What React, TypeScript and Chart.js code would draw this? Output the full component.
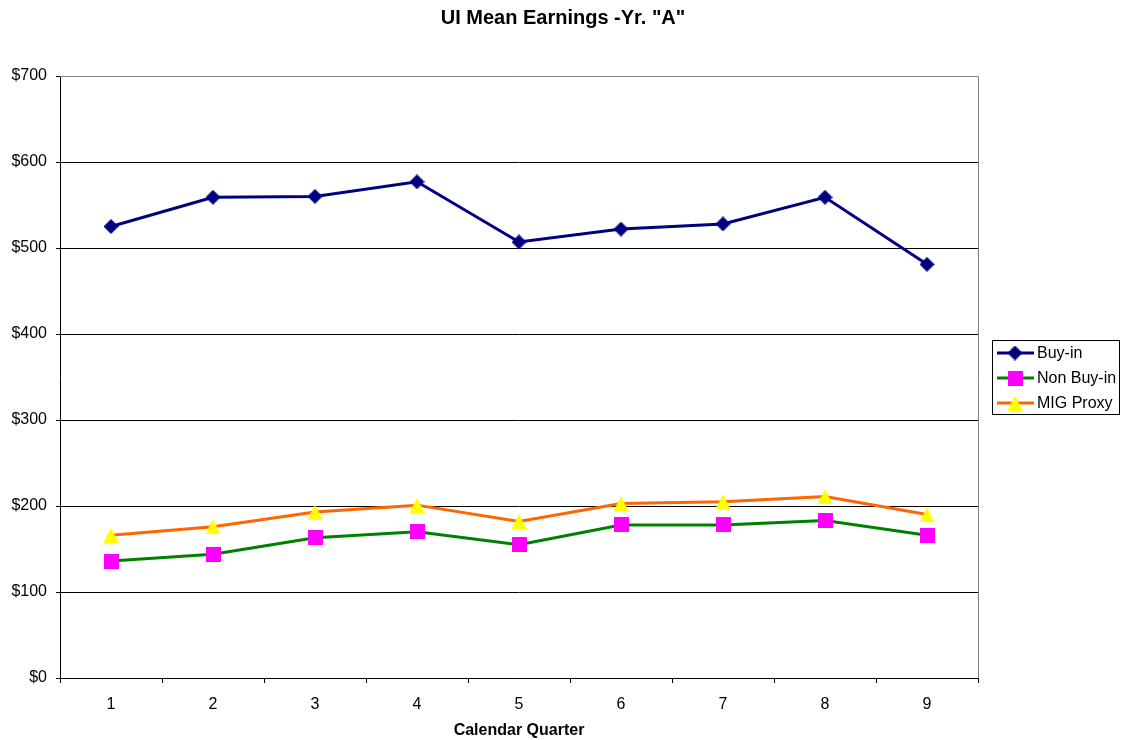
import React, { useEffect, useRef } from "react";
import { Chart, registerables } from "chart.js";

Chart.register(...registerables);

const categories = ["1", "2", "3", "4", "5", "6", "7", "8", "9"];
const buyIn = [525, 559, 560, 577, 507, 522, 528, 559, 481];
const nonBuyIn = [136, 144, 163, 170, 155, 178, 178, 183, 166];
const migProxy = [166, 176, 193, 201, 182, 203, 205, 211, 190];
const yTicks = [0, 100, 200, 300, 400, 500, 600, 700];

const FONT = "'Liberation Sans', Arial, Helvetica, sans-serif";

function makeMarker(kind: string, color: string): HTMLCanvasElement {
  const c = document.createElement("canvas");
  const s = 15;
  c.width = s;
  c.height = s;
  const ctx = c.getContext("2d")!;
  ctx.fillStyle = color;
  ctx.beginPath();
  if (kind === "diamond") {
    ctx.moveTo(s / 2, 0);
    ctx.lineTo(s, s / 2);
    ctx.lineTo(s / 2, s);
    ctx.lineTo(0, s / 2);
  } else if (kind === "square") {
    ctx.rect(0, 0, s, s);
  } else {
    ctx.moveTo(s / 2, 0);
    ctx.lineTo(s, s);
    ctx.lineTo(0, s);
  }
  ctx.closePath();
  ctx.fill();
  return c;
}

const titlePlugin = {
  id: "customTitle",
  afterDraw(chart: any) {
    const ctx = chart.ctx;
    ctx.save();
    ctx.font = `bold 20px ${FONT}`;
    ctx.fillStyle = "#000";
    ctx.textAlign = "center";
    ctx.textBaseline = "middle";
    ctx.fillText('UI Mean Earnings -Yr. "A"', 563, 18);
    ctx.restore();
  },
};

const borderPlugin = {
  id: "plotBorder",
  beforeDatasetsDraw(chart: any) {
    const { ctx, chartArea } = chart;
    ctx.save();
    ctx.strokeStyle = "#808080";
    ctx.lineWidth = 1;
    ctx.beginPath();
    ctx.moveTo(chartArea.left, chartArea.top + 0.5);
    ctx.lineTo(chartArea.right + 0.5, chartArea.top + 0.5);
    ctx.lineTo(chartArea.right + 0.5, chartArea.bottom);
    ctx.stroke();
    ctx.restore();
  },
};

const legendPlugin = {
  id: "customLegend",
  afterDraw(chart: any) {
    const ctx = chart.ctx;
    ctx.save();
    ctx.strokeStyle = "#000";
    ctx.lineWidth = 1;
    ctx.strokeRect(992.5, 340.5, 127, 74);
    const rows = [353, 378, 403];
    chart.data.datasets.forEach((ds: any, i: number) => {
      const y = rows[i];
      ctx.strokeStyle = ds.borderColor;
      ctx.lineWidth = 3;
      ctx.beginPath();
      ctx.moveTo(997, y);
      ctx.lineTo(1034, y);
      ctx.stroke();
      const m: HTMLCanvasElement = ds.pointStyle;
      ctx.drawImage(m, 1015 - m.width / 2, y - m.height / 2);
      ctx.fillStyle = "#000";
      ctx.font = `16px ${FONT}`;
      ctx.textAlign = "left";
      ctx.textBaseline = "middle";
      ctx.fillText(ds.label, 1037, y + 1);
    });
    ctx.restore();
  },
};

export default function App() {
  const ref = useRef<HTMLCanvasElement>(null);

  useEffect(() => {
    if (!ref.current) return;
    const diamond = makeMarker("diamond", "#000080");
    const square = makeMarker("square", "#FF00FF");
    const triangle = makeMarker("triangle", "#FFFF00");
    const chart = new Chart(ref.current, {
      type: "line",
      data: {
        labels: categories,
        datasets: [
          {
            label: "Buy-in",
            data: buyIn,
            borderColor: "#000080",
            backgroundColor: "#000080",
            pointStyle: diamond as any,
            pointRadius: 8,
            borderWidth: 3,
            tension: 0,
          },
          {
            label: "Non Buy-in",
            data: nonBuyIn,
            borderColor: "#008000",
            backgroundColor: "#FF00FF",
            pointStyle: square as any,
            pointRadius: 8,
            borderWidth: 3,
            tension: 0,
          },
          {
            label: "MIG Proxy",
            data: migProxy,
            borderColor: "#FF6600",
            backgroundColor: "#FFFF00",
            pointStyle: triangle as any,
            pointRadius: 8,
            borderWidth: 3,
            tension: 0,
          },
        ],
      },
      options: {
        responsive: false,
        animation: false,
        layout: { padding: { left: 0, right: 144, top: 76, bottom: 0 } },
        plugins: {
          legend: { display: false },
          title: { display: false },
          tooltip: { enabled: false },
        },
        scales: {
          x: {
            type: "category",
            offset: true,
            afterFit(scale: any) {
              scale.height = 62;
            },
            grid: {
              offset: true,
              drawOnChartArea: false,
              drawTicks: true,
              tickLength: 5,
              color: "#000",
            },
            border: { color: "#000", width: 1 },
            ticks: {
              color: "#000",
              font: { family: FONT, size: 16 },
              padding: 12,
              maxRotation: 0,
            },
            title: {
              display: true,
              text: "Calendar Quarter",
              color: "#000",
              font: { family: FONT, size: 16, weight: "bold" },
              padding: { top: 0, bottom: 0 },
            },
          },
          y: {
            min: 0,
            max: 700,
            afterFit(scale: any) {
              scale.width = 60;
            },
            afterBuildTicks(scale: any) {
              scale.ticks = yTicks.map((v) => ({ value: v }));
            },
            grid: {
              color: "#000",
              lineWidth: 1,
              drawTicks: true,
              tickLength: 4,
            },
            border: { color: "#000", width: 1 },
            ticks: {
              color: "#000",
              font: { family: FONT, size: 16 },
              padding: 9,
              callback: (v: any) => "$" + v,
            },
          },
        },
      },
      plugins: [borderPlugin, titlePlugin, legendPlugin],
    });
    return () => chart.destroy();
  }, []);

  return (
    <div style={{ position: "absolute", left: 0, top: 0, width: 1122, height: 740, background: "#fff" }}>
      <canvas ref={ref} width={1122} height={740} style={{ width: 1122, height: 740, display: "block" }} />
    </div>
  );
}
